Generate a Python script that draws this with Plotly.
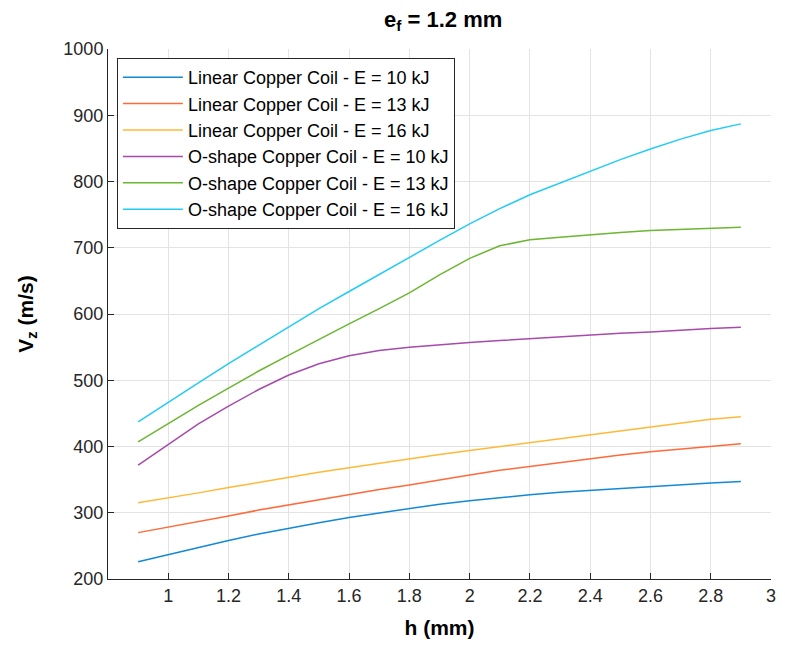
import plotly.graph_objects as go

h = [0.9, 1.0, 1.1, 1.2, 1.3, 1.4, 1.5, 1.6, 1.7, 1.8, 1.9, 2.0, 2.1, 2.2, 2.3, 2.4, 2.5, 2.6, 2.7, 2.8, 2.9]

lin_10 = [226, 237, 248, 258, 268, 277, 285, 293, 300, 307, 313, 318, 323, 327, 331, 334, 337, 340, 343, 345, 347]
lin_13 = [270, 278, 287, 295, 304, 312, 320, 327, 335, 342, 350, 357, 364, 370, 376, 382, 387, 392, 396, 400, 404]
lin_16 = [315, 322, 330, 338, 346, 354, 361, 368, 375, 381, 388, 394, 400, 406, 412, 418, 424, 430, 436, 441, 445]
o_10 = [372, 403, 434, 461, 486, 508, 525, 537, 545, 550, 554, 557, 560, 563, 566, 568, 571, 573, 576, 578, 580]
o_13 = [407, 435, 462, 488, 514, 538, 562, 585, 608, 632, 659, 684, 703, 712, 716, 720, 723, 726, 728, 730, 731]
o_16 = [437, 467, 496, 525, 553, 581, 608, 634, 660, 686, 711, 736, 759, 780, 798, 816, 833, 849, 864, 877, 887]

names = [
    "Linear Copper Coil - E = 10 kJ",
    "Linear Copper Coil - E = 13 kJ",
    "Linear Copper Coil - E = 16 kJ",
    "O-shape Copper Coil - E = 10 kJ",
    "O-shape Copper Coil - E = 13 kJ",
    "O-shape Copper Coil - E = 16 kJ",
]
series = [lin_10, lin_13, lin_16, o_10, o_13, o_16]
colors = ["#1289d6", "#ff6a3a", "#ffb937", "#a64aab", "#6cb632", "#22ccf5"]

x_ticks = [1, 1.2, 1.4, 1.6, 1.8, 2, 2.2, 2.4, 2.6, 2.8, 3]
x_ticklabels = ["1", "1.2", "1.4", "1.6", "1.8", "2", "2.2", "2.4", "2.6", "2.8", "3"]
y_ticks = [200, 300, 400, 500, 600, 700, 800, 900, 1000]

fig = go.Figure()
for name, ys, c in zip(names, series, colors):
    fig.add_trace(go.Scatter(x=h, y=ys, mode="lines", name=name,
                             line=dict(color=c, width=1.5)))

font_family = "Liberation Sans, Arial, Helvetica, sans-serif"
# page body has an 8px margin, so the figure is sized to fill the rest of the window
fig.update_layout(
    width=777, height=638,
    margin=dict(l=100, r=9, t=41, b=67),
    paper_bgcolor="white", plot_bgcolor="white",
    font=dict(family=font_family, color="#262626", size=18),
    title=dict(text="<b>e<sub>f</sub> = 1.2 mm</b>", x=0.56, xanchor="center",
               xref="container", yref="container",
               y=0.995, yanchor="top", font=dict(size=22, color="#000000")),
    showlegend=True,
    legend=dict(x=0.0134, y=0.983, xanchor="left", yanchor="top",
                bgcolor="white", bordercolor="#262626", borderwidth=1,
                font=dict(size=18, color="#000000"), itemwidth=60,
                tracegroupgap=0),
    xaxis=dict(range=[0.8, 3], tickvals=x_ticks, ticktext=x_ticklabels,
               showgrid=True, gridcolor="#e3e3e3", gridwidth=1,
               showline=True, linecolor="#262626", linewidth=1,
               ticks="inside", ticklen=6, tickcolor="#262626",
               ticklabeloverflow="allow",
               zeroline=False, tickfont=dict(size=18),
               title=dict(text="<b>h (mm)</b>", font=dict(size=21, color="#000000"), standoff=15)),
    yaxis=dict(range=[200, 1000], tickvals=y_ticks,
               showgrid=True, gridcolor="#e3e3e3", gridwidth=1,
               showline=True, linecolor="#262626", linewidth=1,
               ticks="inside", ticklen=6, tickcolor="#262626",
               zeroline=False, tickfont=dict(size=18),
               title=dict(text="<b>V<sub>z</sub> (m/s)</b>", font=dict(size=21, color="#000000"), standoff=24)),
)

fig.write_html("out.html")
